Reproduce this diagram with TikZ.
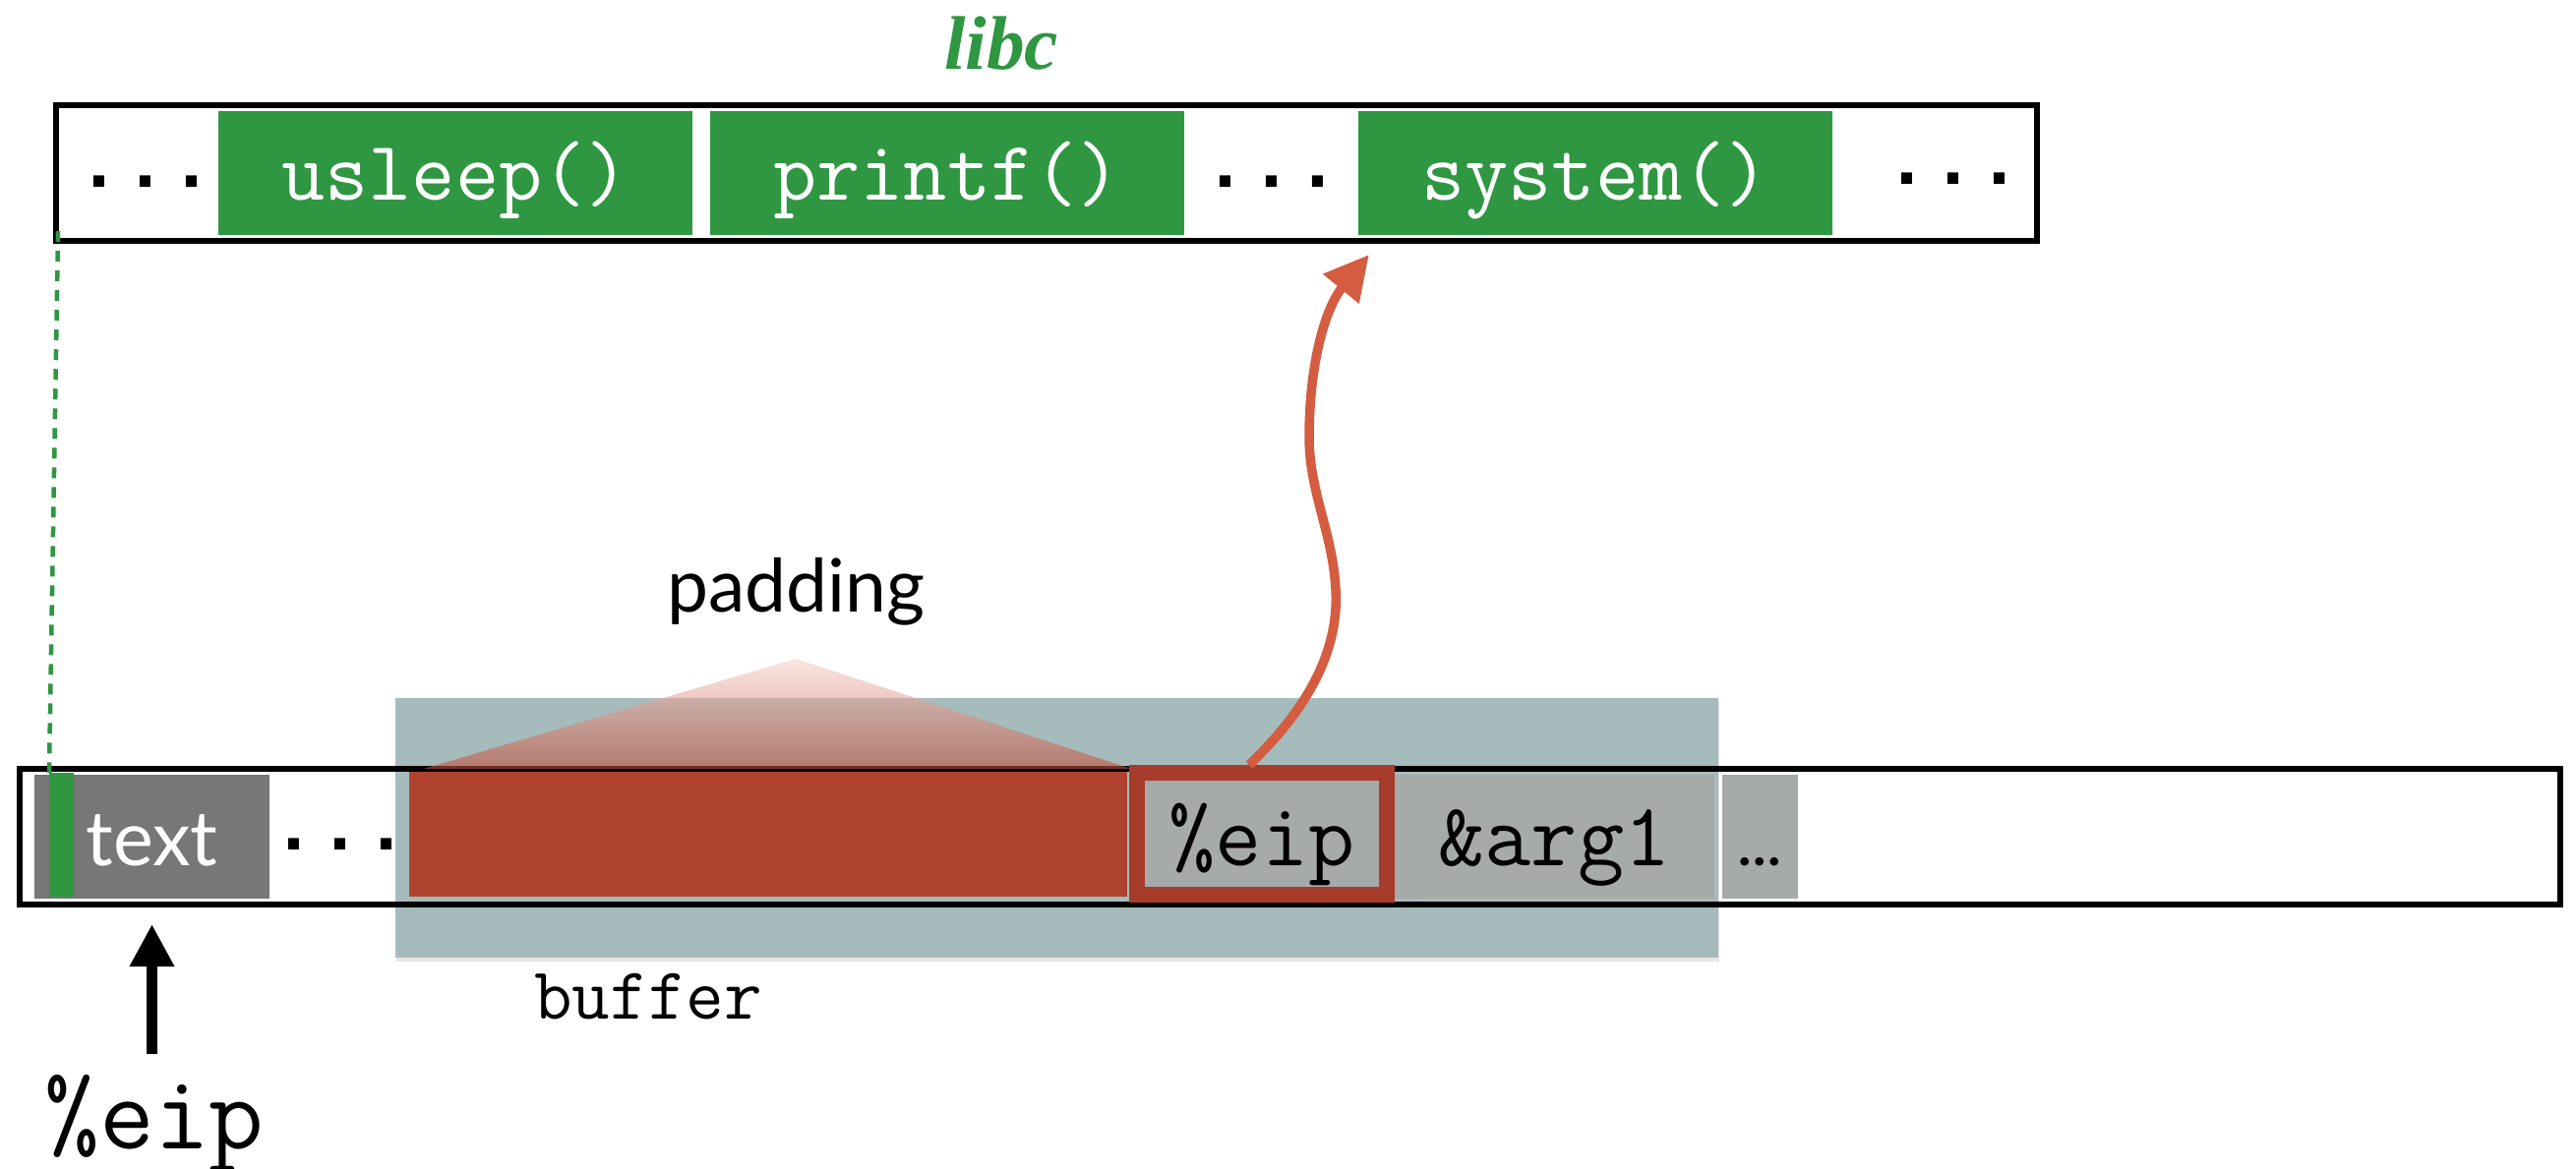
\documentclass[tikz,border=0pt]{standalone}
\usepackage{fontspec}
\setmainfont{Liberation Serif}
\newfontfamily\humansans{Lato}
\newfontfamily\dotfont{Liberation Mono}
\usetikzlibrary{arrows.meta,calc,shadows}

\definecolor{libgreen}{RGB}{47,150,66}
\definecolor{bufteal}{RGB}{166,187,188}
\definecolor{padred}{RGB}{175,67,48}
\definecolor{retred}{RGB}{167,60,44}
\definecolor{slotgray}{RGB}{166,170,169}
\definecolor{textgray}{RGB}{118,119,118}
\definecolor{jumpred}{RGB}{212,92,64}
\definecolor{padtop}{RGB}{246,213,204}
\definecolor{padbottom}{RGB}{192,80,60}

\newcommand\monofn{\ttfamily\fontsize{24.4}{28}\selectfont}
\newcommand\monoslot{\ttfamily\fontsize{26}{30}\selectfont}
\newcommand\dotsfn{\dotfont\bfseries\fontsize{22.2}{26}\selectfont}

\begin{document}
\begin{tikzpicture}[x=0.01cm,y=-0.01cm,
  memframe/.style={draw=black,line width=0.058cm,inner sep=0pt},
  fncell/.style={fill=libgreen,text=white,inner sep=0pt,outer sep=0pt,
    font=\monofn,text height=0.6cm,text depth=0.06cm,
    minimum width=4.82cm,minimum height=1.26cm},
  slot/.style={fill=slotgray,inner sep=0pt,outer sep=0pt,font=\monoslot,
    text height=0.62cm,text depth=0.04cm,minimum height=1.26cm},
  dots/.style={anchor=base,inner sep=0pt,font=\dotsfn},
  caption/.style={anchor=base,inner sep=0pt},
  softshadow/.style={drop shadow={shadow xshift=0.01cm,shadow yshift=-0.04cm,opacity=0.2}}]

\useasboundingbox (0,0) rectangle (2619,1188);

% ---- libc in memory ----
\node[caption,text=libgreen,font=\bfseries\itshape\fontsize{22}{26}\selectfont] (libname) at (1018,71) {libc};
\node[memframe,fill=white,softshadow,minimum width=20.13cm,minimum height=1.385cm] (lib) at (1064,176) {};
\node[dots] (d1) at (148,190) {...};
\node[fncell] (usl) at (463,176) {usleep()};
\node[fncell] (prf) at (963,176) {printf()};
\node[dots] (d2) at (1293,190) {...};
\node[fncell] (sys) at (1622,176) {system()};
\node[dots] (d3) at (1986,188) {...};

% ---- stack with the overflowed buffer ----
\node[fill=bufteal,softshadow,inner sep=0pt,minimum width=13.45cm,minimum height=2.64cm] (buf) at (1074.5,842) {};
\node[memframe,minimum width=25.81cm,minimum height=1.38cm] (stack) at (1311.5,851) {};
\node[slot,fill=textgray,text=white,font=\humansans\fontsize{22}{26}\selectfont,minimum width=2.39cm] (txt) at (154.5,851) {text};
\node[fill=libgreen,inner sep=0pt,outer sep=0pt,minimum width=0.25cm,minimum height=1.26cm] (gbar) at (62.5,849) {};
\node[dots] (d4) at (346,864) {...};
\node[fill=padred,inner sep=0pt,outer sep=0pt,minimum width=7.3cm,minimum height=1.27cm] (pad) at (781,848.5) {};
\node[slot,draw=retred,line width=0.16cm,outer sep=0.08cm,minimum width=2.54cm,minimum height=1.24cm,
  text height=0.66cm,text depth=0.02cm] (ret) at (1283,848) {\%eip};
\node[slot,minimum width=3.25cm] (arg) at (1580.5,851) {\&arg1};
\node[slot,minimum width=0.77cm,font=\humansans\bfseries\fontsize{16}{18}\selectfont] (more) at (1789.5,851) {…};

% padding wedge over the buffer
\coordinate (apex) at (809,670);
\shade[top color=padtop,bottom color=padbottom,opacity=0.6]
  (apex) -- ($(pad.north west)+(15,-3)$) -- ($(pad.north east)+(4,-3)$) -- cycle;
\node[caption,font=\humansans\fontsize{21.3}{24}\selectfont] (padlbl) at (809.5,622) {padding};
\node[caption,font=\ttfamily\fontsize{21.3}{24}\selectfont] (buflbl) at (659,1036) {buffer};

% instruction pointer
\node[caption,font=\ttfamily\fontsize{30.8}{34}\selectfont] (pc) at (157,1168) {\%eip};
\draw[line width=0.1cm,-{Triangle[width=0.43cm,length=0.43cm]},shorten <=0.2cm,shorten >=0.26cm]
  (txt.south |- pc.north) -- (txt.south);

% text segment lies inside libc's mapping
\draw[libgreen,line width=0.045cm,dash pattern=on 0.11cm off 0.09cm]
  ($(lib.south west)+(5,-13)$) -- (gbar.north west);

% overwritten return address jumps to system()
\draw[jumpred,line width=0.095cm,-{Triangle[width=0.45cm,length=0.45cm]}]
  ($(ret.north)+(-13,0)$) .. controls (1320,730) and (1362,670) .. (1358,600)
  .. controls (1355,540) and (1330,500) .. (1331,440)
  .. controls (1332,360) and (1350,310) .. ($(sys.south west)+(11,20)$);
\end{tikzpicture}
\end{document}
